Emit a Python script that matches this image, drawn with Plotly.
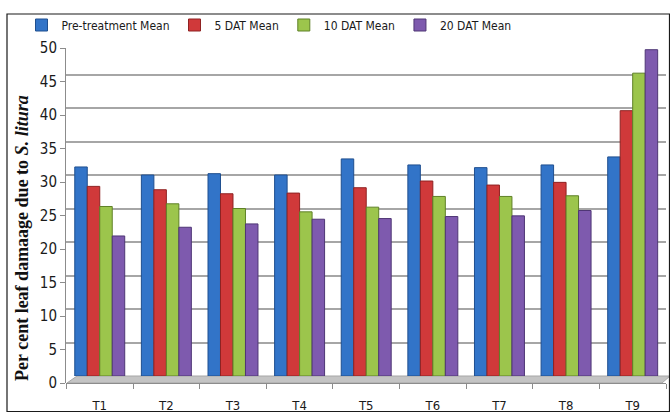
import plotly.graph_objects as go

# Treatments and mean per cent leaf damage at each observation
treatments = ["T1", "T2", "T3", "T4", "T5", "T6", "T7", "T8", "T9"]
pre_treatment = [31.2, 30.0, 30.2, 30.0, 32.4, 31.5, 31.1, 31.5, 32.7]
dat_5 = [28.3, 27.8, 27.2, 27.3, 28.1, 29.1, 28.5, 28.9, 39.6]
dat_10 = [25.3, 25.7, 25.0, 24.5, 25.2, 26.8, 26.8, 26.9, 45.2]
dat_20 = [20.9, 22.2, 22.7, 23.4, 23.5, 23.8, 23.9, 24.7, 48.7]
y_ticks = [0, 5, 10, 15, 20, 25, 30, 35, 40, 45, 50]
y_title = "<b>Per cent leaf damaage due to <i>S. litura</i></b>"

series = [
    ("Pre-treatment Mean", pre_treatment, "#3274c8", "#1f4f8f"),
    ("5 DAT Mean", dat_5, "#d0393a", "#8f2222"),
    ("10 DAT Mean", dat_10, "#9cc54c", "#5f8127"),
    ("20 DAT Mean", dat_20, "#7e5aae", "#4f3675"),
]

UI_FONT = "DejaVu Sans Condensed, Lato, sans-serif"

fig = go.Figure()
for name, vals, col, edge in series:
    fig.add_trace(go.Bar(
        x=treatments, y=vals, name=name,
        marker=dict(color=col, line=dict(color=edge, width=1)),
    ))
# empty carrier so the front (labelled) value axis is drawn
fig.add_trace(go.Scatter(x=[treatments[0]], y=[0], yaxis="y2", mode="markers",
                         marker=dict(opacity=0), showlegend=False, hoverinfo="skip"))

# chart-area geometry in pixels
W, H = 670, 412
L, R, T, B = 66, 4, 41, 29
pw, ph = W - L - R, H - T - B
FRONT_ZERO, FRONT_TOP = 383, 48   # labelled axis (front plane)
BACK_ZERO, BACK_TOP = 376, 41     # gridded back wall


def px(x):
    return (x - L) / pw


def py(y):
    return (H - B - y) / ph


shapes = [
    # grey floor under the columns
    dict(type="path", xref="paper", yref="paper", layer="below",
         path=f"M {px(67)} {py(383)} L {px(77)} {py(376)} L {px(670)} {py(376)} L {px(662)} {py(383)} Z",
         fillcolor="#c4c4c4", line=dict(color="#a6a6a6", width=1)),
    # outer frame of the chart
    dict(type="rect", xref="paper", yref="paper", layer="above",
         x0=px(7), x1=px(669.5), y0=py(411.5), y1=py(14),
         line=dict(color="#1a1a1a", width=1.2), fillcolor="rgba(0,0,0,0)"),
]

# value-axis title, set a little below the axis centre
annotations = [
    dict(text=y_title, xref="paper", yref="paper", x=px(22), y=py(238),
         xanchor="center", yanchor="middle", textangle=-90, showarrow=False,
         font=dict(family="Liberation Serif, DejaVu Serif, serif", size=18, color="#111")),
]

fig.update_layout(
    width=W, height=H,
    margin=dict(l=L, r=R, t=T, b=B, autoexpand=False),
    paper_bgcolor="white", plot_bgcolor="rgba(0,0,0,0)",
    barmode="group", bargap=0.25, bargroupgap=0.0,
    font=dict(family=UI_FONT, size=12, color="#1a1a1a"),
    legend=dict(orientation="h", x=px(269), xanchor="center", y=py(25), yanchor="middle",
                font=dict(family=UI_FONT, size=12), itemwidth=30, traceorder="normal",
                bgcolor="rgba(0,0,0,0)"),
    shapes=shapes,
    annotations=annotations,
    showlegend=True,
    xaxis=dict(
        anchor="free", position=0,
        showline=True, linecolor="#8c8c8c", linewidth=1,
        ticks="outside", ticklen=5, tickcolor="#8c8c8c", tickson="boundaries",
        showgrid=False, tickfont=dict(size=13), ticklabelstandoff=10,
    ),
    # value axis for the columns and back-wall gridlines
    yaxis=dict(
        domain=[py(BACK_ZERO), py(BACK_TOP)], range=[0, 50], tickvals=y_ticks,
        showline=False, ticks="", showticklabels=False,
        showgrid=True, gridcolor="#a6a6a6", gridwidth=1.5, zeroline=False,
    ),
    # labelled value axis on the front plane
    yaxis2=dict(
        domain=[py(FRONT_ZERO), py(FRONT_TOP)], range=[0, 50], tickvals=y_ticks,
        anchor="x", side="left",
        showline=True, linecolor="#8c8c8c", linewidth=1,
        ticks="outside", ticklen=5, tickcolor="#8c8c8c",
        showgrid=False, zeroline=False, tickfont=dict(size=15),
        automargin=False,
    ),
)

fig.write_html("out.html")
